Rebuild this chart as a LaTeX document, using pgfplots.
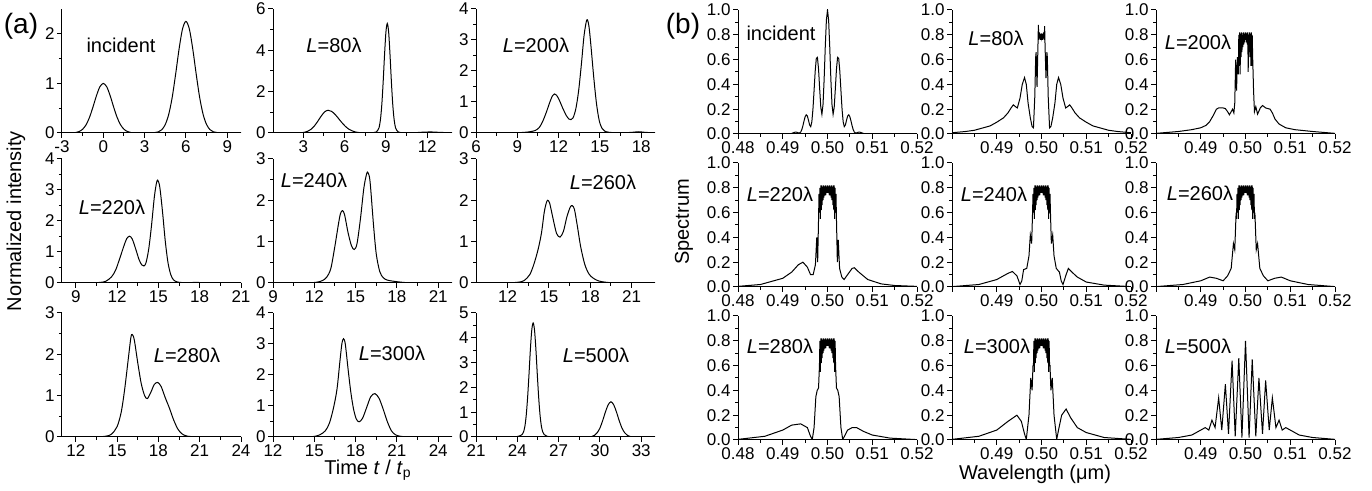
\documentclass[border=0pt]{standalone}
\usepackage{fontspec}
\setmainfont{Liberation Sans}
\usepackage{pgfplots}
\pgfplotsset{compat=1.18}
\begin{document}
\begin{tikzpicture}
\useasboundingbox (0,0) rectangle (686pt,245.5pt);
\pgfplotsset{
  panel/.style={
    scale only axis, width=89.5pt, height=62pt, anchor=south west,
    axis x line*=bottom, axis y line*=left,
    axis line style={line width=0.5pt},
    tick align=outside, major tick length=2.5pt, minor tick length=1.5pt,
    tick style={black, line width=0.5pt},
    minor tick style={black, line width=0.5pt},
    tick label style={font=\fontsize{8.5}{9}\selectfont, inner sep=1pt},
    /pgf/number format/assume math mode=true,
    enlargelimits=false, ymin=0,
    cycle list={{black, line width=0.5pt, mark=none}},
  },
  tpanel/.style={panel, minor x tick num=1, minor y tick num=1},
  wpanel/.style={panel, xmin=0.48, xmax=0.52, ymax=1,
    ytick={0,0.2,0.4,0.6,0.8,1}, yticklabels={0.0,0.2,0.4,0.6,0.8,1.0},
    minor ytick={0.1,0.3,0.5,0.7,0.9},
    xtick={0.48,0.49,0.5,0.51,0.52},
    minor xtick={0.485,0.495,0.505,0.515}},
  wfirst/.style={xticklabels={0.48,0.49,0.50,0.51,0.52}},
  wother/.style={xticklabels={,0.49,0.50,0.51,0.52}},
}
% ---------------- (a) ----------------
\begin{axis}[tpanel, at={(31pt,179pt)}, xmin=-3, xmax=10, xtick={-3,0,3,6,9}, ymax=2.5, ytick={0,1,2}]
\addplot[black, line width=0.5pt, smooth, tension=0.5] coordinates {(-3,0)(-2.5,0.001)(-2,0.01)(-1.75,0.03)(-1.5,0.076)(-1.25,0.166)(-1,0.317)(-0.75,0.524)(-0.5,0.75)(-0.25,0.931)(0,1)(0.25,0.931)(0.5,0.75)(0.75,0.524)(1,0.317)(1.25,0.166)(1.5,0.076)(1.75,0.03)(2,0.01)(2.5,0.001)(3,0.001)(3.5,0.002)(4,0.023)(4.25,0.067)(4.5,0.17)(4.75,0.374)(5,0.713)(5.25,1.179)(5.5,1.688)(5.75,2.095)(6,2.25)(6.25,2.095)(6.5,1.688)(6.75,1.179)(7,0.713)(7.25,0.374)(7.5,0.17)(7.75,0.067)(8,0.023)(8.5,0.002)(9,0)(10,0)};
\end{axis}
\begin{axis}[tpanel, at={(136.5pt,179pt)}, xmin=0.8, xmax=13.8, xtick={3,6,9,12}, ymax=6, ytick={0,2,4,6}]
\addplot[black, line width=0.5pt, smooth, tension=0.5] coordinates {(0.8,0)(2.5,0.003)(2.8,0.01)(3.05,0.03)(3.3,0.077)(3.55,0.173)(3.8,0.337)(4.05,0.565)(4.3,0.818)(4.55,1.022)(4.8,1.1)(5.05,1.047)(5.3,0.905)(5.55,0.708)(5.8,0.504)(6.05,0.325)(6.3,0.189)(6.55,0.101)(6.8,0.048)(7.05,0.02)(7.3,0.01)(7.7,0.008)(8.1,0.02)(8.3,0.05)(8.4,0.12)(8.5,0.25)(8.6,0.63)(8.7,1.35)(8.8,2.46)(8.9,3.77)(9.0,4.87)(9.1,5.3)(9.2,4.87)(9.3,3.77)(9.4,2.46)(9.5,1.35)(9.6,0.63)(9.7,0.25)(9.8,0.12)(9.9,0.05)(10.1,0.015)(10.5,0.005)(11,0.01)(11.7,0.04)(12.3,0.05)(12.9,0.03)(13.8,0.01)};
\end{axis}
\begin{axis}[tpanel, at={(238pt,179pt)}, xmin=6, xmax=19, xtick={6,9,12,15,18}, ymax=4, ytick={0,1,2,3,4}]
\addplot[black, line width=0.5pt, smooth, tension=0.5] coordinates {(6,0)(8,0.003)(9,0.01)(9.5,0.02)(9.9,0.04)(10.3,0.08)(10.6,0.18)(10.85,0.38)(11.1,0.66)(11.35,0.98)(11.55,1.2)(11.7,1.26)(11.85,1.22)(12.05,1.06)(12.3,0.8)(12.55,0.57)(12.75,0.45)(12.9,0.43)(13.05,0.49)(13.25,0.78)(13.45,1.35)(13.65,2.2)(13.85,3.15)(14.05,3.65)(14.2,3.45)(14.35,2.8)(14.55,1.8)(14.75,0.95)(14.95,0.4)(15.15,0.15)(15.35,0.06)(15.7,0.02)(16.5,0.005)(17.3,0.02)(17.8,0.04)(18.3,0.02)(19,0.005)};
\end{axis}
\begin{axis}[tpanel, at={(31pt,104pt)}, xmin=8, xmax=21, xtick={9,12,15,18,21}, ymax=4, ytick={0,1,2,3,4}]
\addplot[black, line width=0.5pt, smooth, tension=0.5] coordinates {(8,0)(10,0.005)(10.8,0.02)(11.2,0.06)(11.6,0.2)(11.9,0.42)(12.2,0.8)(12.5,1.2)(12.7,1.43)(12.9,1.51)(13.1,1.42)(13.35,1.1)(13.6,0.75)(13.8,0.58)(13.95,0.55)(14.1,0.65)(14.3,1.1)(14.5,1.85)(14.7,2.75)(14.85,3.2)(14.95,3.32)(15.1,3.1)(15.3,2.3)(15.5,1.35)(15.7,0.65)(15.9,0.27)(16.1,0.1)(16.4,0.03)(17,0.01)(17.8,0.02)(18.3,0.01)(21,0)};
\end{axis}
\begin{axis}[tpanel, at={(136.5pt,104pt)}, xmin=9, xmax=22, xtick={9,12,15,18,21}, ymax=3, ytick={0,1,2,3}]
\addplot[black, line width=0.5pt, smooth, tension=0.5] coordinates {(9,0)(11.5,0.005)(12.2,0.02)(12.6,0.06)(12.9,0.14)(13.2,0.35)(13.5,0.9)(13.75,1.42)(13.9,1.68)(14.05,1.75)(14.2,1.65)(14.45,1.22)(14.7,0.9)(14.9,0.81)(15.1,0.95)(15.35,1.55)(15.6,2.3)(15.8,2.64)(15.9,2.67)(16.05,2.45)(16.3,1.4)(16.5,0.7)(16.75,0.28)(17.0,0.13)(17.3,0.07)(17.8,0.04)(18.3,0.02)(19,0.005)(21,0.01)(22,0)};
\end{axis}
\begin{axis}[tpanel, at={(238pt,104pt)}, xmin=9.7, xmax=22.7, xtick={12,15,18,21}, ymax=3, ytick={0,1,2,3}]
\addplot[black, line width=0.5pt, smooth, tension=0.5] coordinates {(9.7,0)(12,0.005)(12.8,0.02)(13.2,0.06)(13.6,0.2)(13.9,0.45)(14.2,0.8)(14.45,1.2)(14.65,1.7)(14.8,1.93)(14.9,2.0)(15.05,1.93)(15.3,1.55)(15.55,1.2)(15.8,1.11)(16.05,1.25)(16.3,1.6)(16.55,1.84)(16.7,1.87)(16.85,1.78)(17.05,1.4)(17.3,0.88)(17.6,0.45)(17.9,0.22)(18.2,0.12)(18.6,0.05)(19.2,0.015)(20,0.003)(22.7,0)};
\end{axis}
\begin{axis}[tpanel, at={(31pt,27pt)}, xmin=11, xmax=24, xtick={12,15,18,21,24}, ymax=3, ytick={0,1,2,3}]
\addplot[black, line width=0.5pt, smooth, tension=0.5] coordinates {(11,0)(13.5,0.005)(14.2,0.02)(14.6,0.07)(15.0,0.25)(15.3,0.6)(15.55,1.15)(15.8,1.85)(16.0,2.4)(16.1,2.48)(16.25,2.35)(16.5,1.8)(16.75,1.3)(17.0,1.0)(17.2,0.93)(17.45,1.08)(17.7,1.27)(17.95,1.32)(18.2,1.22)(18.5,0.95)(18.8,0.7)(19.1,0.42)(19.4,0.2)(19.7,0.08)(20.1,0.02)(21,0.003)(24,0)};
\end{axis}
\begin{axis}[tpanel, at={(136.5pt,27pt)}, xmin=12, xmax=25, xtick={12,15,18,21,24}, ymax=4, ytick={0,1,2,3,4}]
\addplot[black, line width=0.5pt, smooth, tension=0.5] coordinates {(12,0)(14.5,0.005)(15.0,0.02)(15.4,0.07)(15.8,0.2)(16.1,0.45)(16.4,0.95)(16.65,1.55)(16.85,2.4)(17.0,3.0)(17.12,3.17)(17.25,3.0)(17.45,2.2)(17.65,1.45)(17.85,0.9)(18.05,0.58)(18.25,0.49)(18.5,0.6)(18.8,0.95)(19.1,1.3)(19.4,1.4)(19.7,1.25)(20.0,0.9)(20.3,0.5)(20.6,0.2)(20.9,0.07)(21.3,0.02)(22,0.005)(25,0)};
\end{axis}
\begin{axis}[tpanel, at={(238pt,27pt)}, xmin=21, xmax=34, xtick={21,24,27,30,33}, ymax=5, ytick={0,1,2,3,4,5}]
\addplot[black, line width=0.5pt, smooth, tension=0.5] coordinates {(21,0)(23.5,0.005)(24.0,0.02)(24.2,0.05)(24.35,0.1)(24.45,0.2)(24.55,0.43)(24.65,0.89)(24.75,1.61)(24.85,2.54)(24.95,3.54)(25.05,4.31)(25.15,4.6)(25.25,4.31)(25.35,3.54)(25.45,2.54)(25.55,1.61)(25.65,0.89)(25.75,0.43)(25.85,0.2)(25.95,0.1)(26.15,0.03)(26.5,0.01)(27.5,0.003)(28.5,0.005)(29.0,0.008)(29.2,0.01)(29.4,0.02)(29.6,0.065)(29.8,0.17)(30.0,0.36)(30.2,0.66)(30.4,1.01)(30.6,1.30)(30.8,1.42)(31.0,1.30)(31.2,1.01)(31.4,0.66)(31.6,0.36)(31.8,0.17)(32.0,0.065)(32.2,0.02)(32.4,0.01)(33,0.002)(34,0)};
\end{axis}
% ---------------- (b) ----------------
\begin{axis}[wpanel, wfirst, at={(369pt,178.5pt)}]
\addplot[black, line width=0.5pt, mark=none] coordinates {(0.48,0)(0.491,0.0003)(0.4915,0.001)(0.492,0.0046)(0.4925,0.0117)(0.49275,0.0145)(0.493,0.0149)(0.49325,0.0126)(0.4935,0.0092)(0.49375,0.0082)(0.494,0.015)(0.49425,0.034)(0.4945,0.0656)(0.49475,0.1043)(0.495,0.1386)(0.49525,0.1549)(0.4955,0.1446)(0.49575,0.1111)(0.496,0.0729)(0.49625,0.0592)(0.4965,0.0981)(0.49675,0.201)(0.497,0.3519)(0.49725,0.507)(0.4975,0.6102)(0.49775,0.6177)(0.498,0.5224)(0.49825,0.3637)(0.4985,0.2161)(0.49875,0.1591)(0.499,0.2386)(0.49925,0.4431)(0.4995,0.7027)(0.49975,0.9172)(0.5,1)(0.50025,0.9172)(0.5005,0.7027)(0.50075,0.4431)(0.501,0.2386)(0.50125,0.1591)(0.5015,0.2161)(0.50175,0.3637)(0.502,0.5224)(0.50225,0.6177)(0.5025,0.6102)(0.50275,0.507)(0.503,0.3519)(0.50325,0.201)(0.5035,0.0981)(0.50375,0.0592)(0.504,0.0729)(0.50425,0.1111)(0.5045,0.1446)(0.50475,0.1549)(0.505,0.1386)(0.50525,0.1043)(0.5055,0.0656)(0.50575,0.034)(0.506,0.015)(0.50625,0.0082)(0.5065,0.0092)(0.50675,0.0126)(0.507,0.0149)(0.50725,0.0145)(0.5075,0.0117)(0.508,0.0046)(0.5085,0.001)(0.509,0.0003)(0.52,0)};
\end{axis}
\begin{axis}[wpanel, wother, at={(476pt,178.5pt)}]
\addplot[black, line width=0.5pt, mark=none] coordinates {(0.480,0.01)(0.483,0.02)(0.485,0.03)(0.487,0.05)(0.4885,0.065)(0.490,0.095)(0.4915,0.13)(0.4925,0.17)(0.4932,0.21)(0.4937,0.235)(0.4942,0.22)(0.4946,0.21)(0.4952,0.29)(0.4957,0.40)(0.4962,0.455)(0.4966,0.40)(0.4970,0.25)(0.4975,0.13)(0.4979,0.06)(0.4982,0.05)(0.4985,0.3)(0.4987,0.62)(0.4988,0.66)(0.4990,0.38)(0.4992,0.7)(0.4993,0.88)(0.4994,0.76)(0.4995,0.82)(0.4996,0.77)(0.4997,0.81)(0.4998,0.76)(0.4999,0.81)(0.5000,0.78)(0.5001,0.81)(0.5002,0.76)(0.5003,0.81)(0.5004,0.77)(0.5005,0.82)(0.5006,0.76)(0.5007,0.87)(0.5008,0.7)(0.5010,0.45)(0.5012,0.66)(0.5013,0.62)(0.5015,0.3)(0.5018,0.05)(0.5021,0.06)(0.5025,0.13)(0.5030,0.25)(0.5034,0.40)(0.5038,0.455)(0.5043,0.40)(0.5048,0.29)(0.5054,0.21)(0.5058,0.22)(0.5063,0.235)(0.5068,0.21)(0.5075,0.17)(0.5085,0.13)(0.510,0.095)(0.5115,0.065)(0.513,0.05)(0.515,0.03)(0.517,0.02)(0.520,0.01)};
\end{axis}
\begin{axis}[wpanel, wother, at={(578pt,178.5pt)}]
\addplot[black, line width=0.5pt, mark=none] coordinates {(0.48,0.005)(0.485,0.02)(0.488,0.035)(0.49,0.05)(0.4912,0.07)(0.492,0.1)(0.4928,0.15)(0.4935,0.2)(0.494,0.21)(0.495,0.21)(0.4955,0.205)(0.496,0.18)(0.4964,0.155)(0.4968,0.18)(0.4971,0.2)(0.4974,0.17)(0.4976,0.25)(0.4978,0.6)(0.498,0.35)(0.4982,0.62)(0.4984,0.48)(0.4985,0.80)(0.4986,0.55)(0.4987,0.82)(0.4988,0.48)(0.4989,0.81)(0.4990,0.62)(0.4991,0.82)(0.4992,0.66)(0.4993,0.80)(0.4994,0.70)(0.4995,0.82)(0.4996,0.72)(0.4997,0.81)(0.4998,0.74)(0.4999,0.82)(0.5000,0.76)(0.5001,0.82)(0.5002,0.74)(0.5003,0.81)(0.5004,0.72)(0.5005,0.82)(0.5006,0.5)(0.5007,0.80)(0.5008,0.66)(0.5009,0.82)(0.5010,0.62)(0.5011,0.81)(0.5012,0.55)(0.5013,0.82)(0.5014,0.55)(0.5015,0.80)(0.5016,0.62)(0.5018,0.35)(0.502,0.18)(0.5023,0.22)(0.5027,0.16)(0.5033,0.21)(0.5038,0.23)(0.5045,0.21)(0.5055,0.2)(0.506,0.17)(0.5066,0.12)(0.5075,0.08)(0.509,0.05)(0.511,0.035)(0.515,0.02)(0.52,0.005)};
\end{axis}
\begin{axis}[wpanel, wfirst, at={(369pt,102pt)}]
\addplot[black, line width=0.5pt, mark=none] coordinates {(0.48,0.005)(0.485,0.02)(0.49,0.07)(0.492,0.12)(0.4935,0.18)(0.4945,0.2)(0.4955,0.16)(0.4962,0.1)(0.4968,0.1)(0.4973,0.18)(0.4976,0.4)(0.4978,0.2)(0.4980,0.55)(0.4981,0.75)(0.4982,0.6)(0.4983,0.8)(0.4984,0.55)(0.4985,0.82)(0.4986,0.62)(0.4987,0.82)(0.4988,0.66)(0.4989,0.81)(0.4990,0.7)(0.4991,0.82)(0.4992,0.72)(0.4993,0.81)(0.4994,0.74)(0.4995,0.82)(0.4996,0.74)(0.4997,0.81)(0.4998,0.76)(0.4999,0.82)(0.5000,0.76)(0.5001,0.82)(0.5002,0.76)(0.5003,0.81)(0.5004,0.74)(0.5005,0.82)(0.5006,0.74)(0.5007,0.81)(0.5008,0.72)(0.5009,0.82)(0.5010,0.7)(0.5011,0.81)(0.5012,0.66)(0.5013,0.82)(0.5014,0.62)(0.5015,0.82)(0.5016,0.55)(0.5017,0.8)(0.5018,0.6)(0.5019,0.75)(0.5020,0.55)(0.5022,0.2)(0.5024,0.38)(0.5027,0.15)(0.5032,0.08)(0.5037,0.06)(0.5045,0.1)(0.5055,0.15)(0.506,0.155)(0.507,0.12)(0.509,0.06)(0.512,0.025)(0.515,0.012)(0.52,0.005)};
\end{axis}
\begin{axis}[wpanel, wother, at={(476pt,102pt)}]
\addplot[black, line width=0.5pt, mark=none] coordinates {(0.48,0.003)(0.486,0.02)(0.49,0.06)(0.4925,0.11)(0.4935,0.125)(0.4945,0.09)(0.4952,0.02)(0.4956,0.05)(0.496,0.14)(0.4967,0.15)(0.4972,0.25)(0.4975,0.42)(0.4978,0.35)(0.4980,0.6)(0.4981,0.75)(0.4982,0.6)(0.4983,0.8)(0.4984,0.55)(0.4985,0.82)(0.4986,0.62)(0.4987,0.82)(0.4988,0.66)(0.4989,0.81)(0.4990,0.7)(0.4991,0.82)(0.4992,0.72)(0.4993,0.81)(0.4994,0.74)(0.4995,0.82)(0.4996,0.74)(0.4997,0.81)(0.4998,0.76)(0.4999,0.82)(0.5000,0.76)(0.5001,0.82)(0.5002,0.76)(0.5003,0.81)(0.5004,0.74)(0.5005,0.82)(0.5006,0.74)(0.5007,0.81)(0.5008,0.72)(0.5009,0.82)(0.5010,0.7)(0.5011,0.81)(0.5012,0.66)(0.5013,0.82)(0.5014,0.62)(0.5015,0.82)(0.5016,0.55)(0.5017,0.8)(0.5018,0.6)(0.5019,0.75)(0.5020,0.6)(0.5022,0.35)(0.5025,0.42)(0.5028,0.25)(0.5033,0.15)(0.504,0.12)(0.5044,0.05)(0.5048,0.02)(0.5055,0.1)(0.506,0.15)(0.5068,0.12)(0.508,0.08)(0.51,0.04)(0.514,0.015)(0.52,0.003)};
\end{axis}
\begin{axis}[wpanel, wother, at={(578pt,102pt)}]
\addplot[black, line width=0.5pt, mark=none] coordinates {(0.48,0.003)(0.486,0.02)(0.49,0.05)(0.492,0.08)(0.4935,0.07)(0.495,0.05)(0.496,0.09)(0.4968,0.15)(0.4973,0.35)(0.4976,0.3)(0.4979,0.6)(0.4980,0.55)(0.4981,0.75)(0.4982,0.6)(0.4983,0.8)(0.4984,0.55)(0.4985,0.82)(0.4986,0.62)(0.4987,0.82)(0.4988,0.66)(0.4989,0.81)(0.4990,0.7)(0.4991,0.82)(0.4992,0.72)(0.4993,0.81)(0.4994,0.74)(0.4995,0.82)(0.4996,0.74)(0.4997,0.81)(0.4998,0.76)(0.4999,0.82)(0.5000,0.76)(0.5001,0.82)(0.5002,0.76)(0.5003,0.81)(0.5004,0.74)(0.5005,0.82)(0.5006,0.74)(0.5007,0.81)(0.5008,0.72)(0.5009,0.82)(0.5010,0.7)(0.5011,0.81)(0.5012,0.66)(0.5013,0.82)(0.5014,0.62)(0.5015,0.82)(0.5016,0.55)(0.5017,0.8)(0.5018,0.6)(0.5019,0.75)(0.5020,0.55)(0.5021,0.6)(0.5024,0.3)(0.5027,0.35)(0.5032,0.15)(0.504,0.09)(0.505,0.05)(0.5065,0.07)(0.508,0.08)(0.51,0.05)(0.514,0.02)(0.52,0.003)};
\end{axis}
\begin{axis}[wpanel, wfirst, at={(369pt,25.5pt)}]
\addplot[black, line width=0.5pt, mark=none] coordinates {(0.48,0.005)(0.486,0.03)(0.49,0.08)(0.492,0.12)(0.494,0.13)(0.4955,0.1)(0.4962,0.03)(0.4966,0.005)(0.497,0.1)(0.4974,0.35)(0.4977,0.4)(0.498,0.42)(0.4982,0.6)(0.4983,0.8)(0.4984,0.55)(0.4985,0.82)(0.4986,0.62)(0.4987,0.82)(0.4988,0.66)(0.4989,0.81)(0.4990,0.7)(0.4991,0.82)(0.4992,0.72)(0.4993,0.81)(0.4994,0.74)(0.4995,0.82)(0.4996,0.74)(0.4997,0.81)(0.4998,0.76)(0.4999,0.82)(0.5000,0.76)(0.5001,0.82)(0.5002,0.76)(0.5003,0.81)(0.5004,0.74)(0.5005,0.82)(0.5006,0.74)(0.5007,0.81)(0.5008,0.72)(0.5009,0.82)(0.5010,0.7)(0.5011,0.81)(0.5012,0.66)(0.5013,0.82)(0.5014,0.62)(0.5015,0.82)(0.5016,0.55)(0.5017,0.8)(0.5018,0.6)(0.502,0.42)(0.5023,0.4)(0.5026,0.35)(0.503,0.1)(0.5034,0.005)(0.5038,0.03)(0.5045,0.08)(0.5055,0.1)(0.5065,0.1)(0.508,0.07)(0.51,0.04)(0.514,0.015)(0.52,0.003)};
\end{axis}
\begin{axis}[wpanel, wother, at={(476pt,25.5pt)}]
\addplot[black, line width=0.5pt, mark=none] coordinates {(0.48,0.005)(0.486,0.03)(0.49,0.08)(0.4925,0.15)(0.4945,0.2)(0.4955,0.15)(0.4962,0.05)(0.4966,0.005)(0.4972,0.2)(0.4976,0.5)(0.4979,0.4)(0.4981,0.6)(0.4982,0.6)(0.4983,0.8)(0.4984,0.55)(0.4985,0.82)(0.4986,0.62)(0.4987,0.82)(0.4988,0.66)(0.4989,0.81)(0.4990,0.7)(0.4991,0.82)(0.4992,0.72)(0.4993,0.81)(0.4994,0.74)(0.4995,0.82)(0.4996,0.74)(0.4997,0.81)(0.4998,0.76)(0.4999,0.82)(0.5000,0.76)(0.5001,0.82)(0.5002,0.76)(0.5003,0.81)(0.5004,0.74)(0.5005,0.82)(0.5006,0.74)(0.5007,0.81)(0.5008,0.72)(0.5009,0.82)(0.5010,0.7)(0.5011,0.81)(0.5012,0.66)(0.5013,0.82)(0.5014,0.62)(0.5015,0.82)(0.5016,0.55)(0.5017,0.8)(0.5018,0.6)(0.5019,0.6)(0.5021,0.4)(0.5024,0.5)(0.5028,0.2)(0.5034,0.005)(0.5038,0.08)(0.5045,0.2)(0.5055,0.25)(0.5065,0.18)(0.508,0.1)(0.51,0.06)(0.514,0.02)(0.52,0.005)};
\end{axis}
\begin{axis}[wpanel, wother, at={(578pt,25.5pt)}]
\addplot[black, line width=0.5pt, mark=none] coordinates {(0.48,0.005)(0.485,0.02)(0.488,0.04)(0.4895,0.07)(0.491,0.1)(0.4918,0.08)(0.4925,0.16)(0.4932,0.1)(0.494,0.34)(0.4947,0.08)(0.4955,0.45)(0.4962,0.05)(0.497,0.64)(0.4977,0.03)(0.4985,0.66)(0.4992,0.02)(0.5,0.8)(0.5008,0.02)(0.5015,0.65)(0.5023,0.03)(0.503,0.5)(0.5038,0.05)(0.5045,0.48)(0.5053,0.08)(0.506,0.34)(0.5068,0.1)(0.5075,0.16)(0.5082,0.08)(0.509,0.1)(0.5105,0.07)(0.512,0.04)(0.515,0.02)(0.52,0.005)};
\end{axis}
% ---------------- texts ----------------
\begin{scope}[every node/.style={font=\fontsize{10}{12}\selectfont, inner sep=0pt}]
\node at (60.5pt,223pt) {incident};
\node at (167pt,223pt) {\textit{L}=80λ};
\node at (268pt,223pt) {\textit{L}=200λ};
\node at (56pt,142pt) {\textit{L}=220λ};
\node at (157pt,155.5pt) {\textit{L}=240λ};
\node at (301.5pt,154.5pt) {\textit{L}=260λ};
\node at (93.5pt,68pt) {\textit{L}=280λ};
\node at (196pt,69pt) {\textit{L}=300λ};
\node at (298pt,68pt) {\textit{L}=500λ};
\node at (390.5pt,229pt) {incident};
\node at (498pt,226.5pt) {\textit{L}=80λ};
\node at (599pt,224.5pt) {\textit{L}=200λ};
\node at (390pt,148.5pt) {\textit{L}=220λ};
\node at (497pt,148.5pt) {\textit{L}=240λ};
\node at (600pt,149pt) {\textit{L}=260λ};
\node at (390pt,72.5pt) {\textit{L}=280λ};
\node at (498.5pt,72.5pt) {\textit{L}=300λ};
\node at (599pt,72.5pt) {\textit{L}=500λ};
\node[rotate=90] at (8pt,135pt) {Normalized intensity};
\node[rotate=90] at (342pt,134.5pt) {Spectrum};
\node at (184pt,10.5pt) {Time \textit{t} / \textit{t}\textsubscript{p}};
\node at (517.5pt,8.5pt) {Wavelength (μm)};
\node[font=\fontsize{14}{16}\selectfont] at (10.5pt,232.5pt) {(a)};
\node[font=\fontsize{14}{16}\selectfont] at (341.5pt,232.5pt) {(b)};
\end{scope}
\end{tikzpicture}
\end{document}
